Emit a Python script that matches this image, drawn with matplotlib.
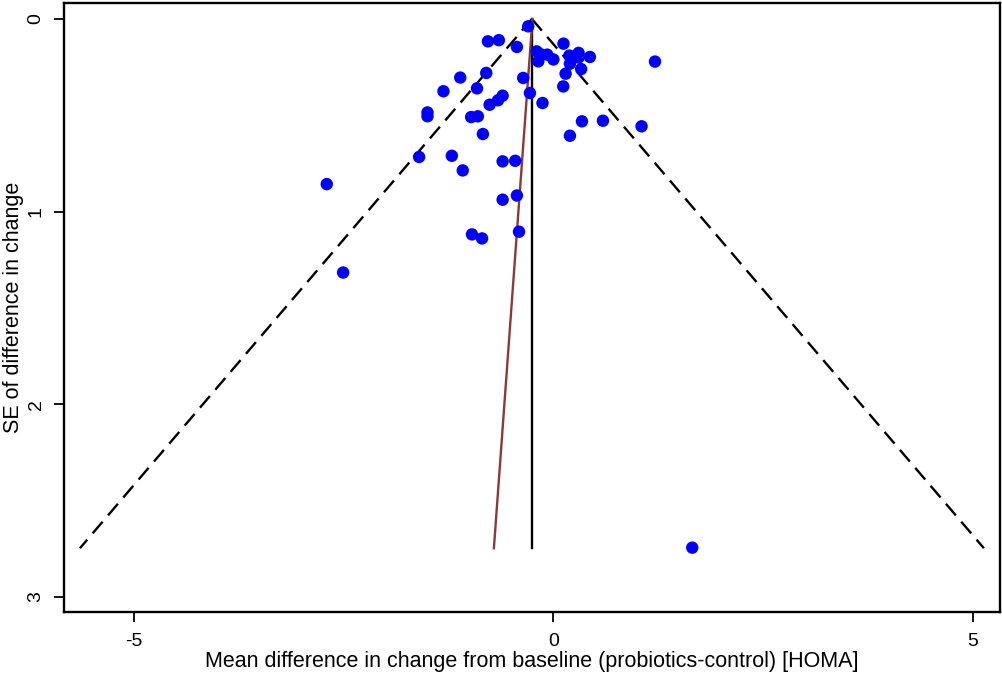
import matplotlib
matplotlib.use("Agg")
import matplotlib.pyplot as plt
import numpy as np

plt.rcParams['font.family'] = ['Liberation Sans', 'DejaVu Sans']
plt.rcParams['lines.scale_dashes'] = False

# Study estimates: mean difference (x) and its standard error (y)
mean_diff = [-0.30, -0.78, -0.65, -0.435, 0.12, -0.20, -0.14, -0.074, -0.18, 0.0,
             0.19, 0.30, 0.30, 0.435, 0.197, 0.33, 1.21, 0.145, 0.117, -0.80,
             -1.11, -0.36, -0.91, -1.31, -0.28, -0.605, -0.66, -0.76, -0.13, -1.50,
             -1.50, -0.98, -0.90, 0.34, 0.59, 1.05, 0.197, -0.84, -1.60, -1.21,
             -1.08, -0.605, -0.455, -2.70, -0.605, -0.435, -0.97, -0.85, -0.41, -2.505,
             1.654]
se_diff = [0.038, 0.116, 0.110, 0.145, 0.128, 0.168, 0.185, 0.185, 0.220, 0.210,
           0.190, 0.176, 0.200, 0.197, 0.232, 0.260, 0.221, 0.284, 0.350, 0.280,
           0.304, 0.306, 0.360, 0.375, 0.384, 0.398, 0.422, 0.445, 0.436, 0.485,
           0.505, 0.509, 0.505, 0.531, 0.528, 0.557, 0.606, 0.597, 0.716, 0.710,
           0.786, 0.739, 0.736, 0.857, 0.938, 0.916, 1.118, 1.139, 1.104, 1.316,
           2.744]

pooled = -0.256          # pooled estimate (funnel centre)
se_max = 2.747           # funnel depth
egger_top = -0.25        # regression line x at SE = 0
egger_bottom = -0.709    # regression line x at SE = se_max

xticks = [-5, 0, 5]
yticks = [0, 1, 2, 3]

fig = plt.figure(figsize=(10.02, 6.75), dpi=100)
ax = fig.add_axes([64/1002, 1-612/675, (1000-64)/1002, (612-3)/675])

se_line = np.array([0.0, se_max])
ax.plot(pooled - 1.96*se_line, se_line, color='black', lw=1.7, dashes=(11, 6))
ax.plot(pooled + 1.96*se_line, se_line, color='black', lw=1.7, dashes=(11, 6))
ax.plot([pooled, pooled], [0, se_max], color='black', lw=1.7)
ax.plot([egger_top, egger_bottom], [0, se_max], color='#8B3A3A', lw=1.7)

ax.scatter(mean_diff, se_diff, s=80, color='#0000FF', edgecolors='none', zorder=3)

ax.set_xlim(-5.83, 5.32)
ax.set_ylim(3.078, -0.083)
ax.set_xticks(xticks)
ax.set_xticklabels([str(t) for t in xticks])
ax.set_yticks(yticks)
ax.set_yticklabels([str(t) for t in yticks], rotation=90, va='center')
ax.tick_params(direction='out', length=7, width=1.3, labelsize=14)
ax.tick_params(axis='x', pad=8)
ax.tick_params(axis='y', pad=7)
for sp in ax.spines.values():
    sp.set_linewidth(1.7)

ax.set_xlabel('Mean difference in change from baseline (probiotics-control) [HOMA]',
              fontsize=15.5, labelpad=1)
ax.set_ylabel('SE of difference in change', fontsize=15.5, labelpad=2.5)

fig.savefig('out.png', dpi=100)
